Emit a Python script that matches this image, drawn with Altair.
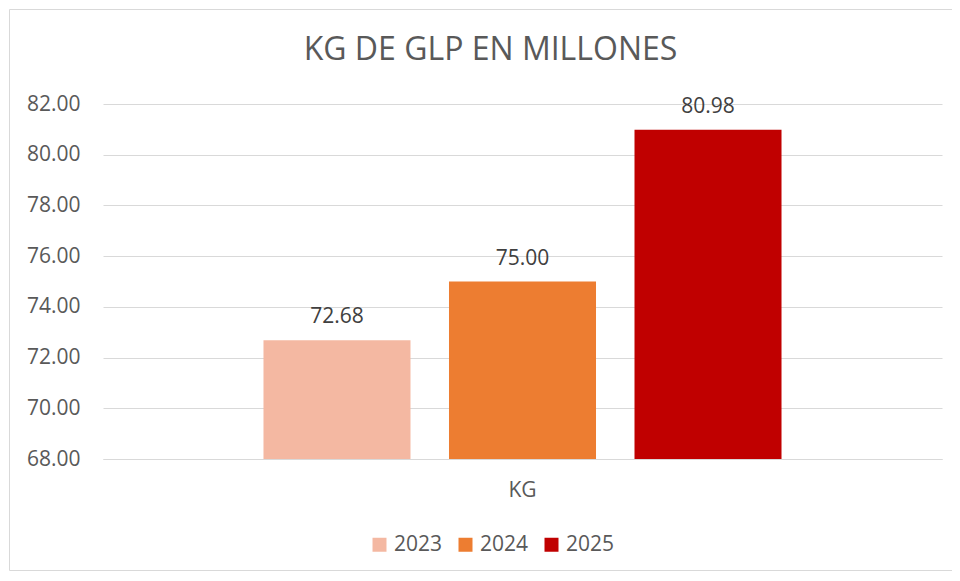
import altair as alt
import pandas as pd

years = ["2023", "2024", "2025"]
values = [72.68, 75.00, 80.98]
category = ["KG", "KG", "KG"]
colors = ["#F4B8A2", "#ED7D31", "#C00000"]
chart_title = "KG DE GLP EN MILLONES"
y_ticks = [68, 70, 72, 74, 76, 78, 80, 82]
y_base = 68

df = pd.DataFrame({"cat": category, "year": years, "value": values})
frame_df = pd.DataFrame({"a": [0]})

FONT = "Open Sans"
GRID = "#D9D9D9"
TXT = "#595959"
FS = 21

x_enc = alt.X(
    "cat:N",
    title=None,
    scale=alt.Scale(paddingInner=0, paddingOuter=0.3098),
    axis=alt.Axis(
        labelAngle=0, ticks=False, domainColor=GRID, labelPadding=20,
        labelFontSize=FS, labelColor=TXT, labelFont=FONT, grid=False,
    ),
)
xoff_enc = alt.XOffset("year:N", scale=alt.Scale(paddingInner=0.2075, paddingOuter=0))
y_enc = alt.Y(
    "value:Q",
    title=None,
    scale=alt.Scale(domain=[68, 82], nice=False, zero=False),
    axis=alt.Axis(
        values=y_ticks, format=".2f", domain=False, ticks=False,
        labelPadding=23, labelFontSize=FS, labelColor=TXT, labelFont=FONT,
        gridColor=GRID, gridWidth=1,
    ),
)

bars = alt.Chart(df).mark_bar().encode(
    x=x_enc,
    xOffset=xoff_enc,
    y=y_enc,
    y2=alt.datum(y_base),
    color=alt.Color(
        "year:N",
        scale=alt.Scale(domain=years, range=colors),
        legend=alt.Legend(
            title=None, orient="none", legendX=266, legendY=430,
            direction="horizontal", symbolType="square", symbolSize=196,
            symbolStrokeWidth=0, labelFontSize=FS, labelColor=TXT,
            labelFont=FONT, columnPadding=12, labelOffset=4,
        ),
    ),
)

labels = alt.Chart(df).mark_text(
    baseline="alphabetic", dy=-17, fontSize=FS, font=FONT, color="#404040"
).encode(
    x=x_enc,
    xOffset=xoff_enc,
    y=y_enc,
    text=alt.Text("value:Q", format=".2f"),
)

frame = alt.Chart(frame_df).mark_rect(
    fill="transparent", stroke=GRID, strokeWidth=1
).encode(
    x=alt.value(-93.5), x2=alt.value(880), y=alt.value(-94.5), y2=alt.value(111.5 + 355)
)

chart = alt.layer(frame, bars, labels).properties(
    width=839,
    height=355,
    padding={"left": 95, "top": 96, "right": 10, "bottom": 112},
    autosize=alt.AutoSizeParams(type="none"),
    background="white",
    title=alt.TitleParams(
        chart_title, fontSize=32, font=FONT, color=TXT, fontWeight="normal",
        anchor="middle", offset=-58, dx=-32,
    ),
).configure_view(stroke=None)

chart.save("out.html", embed_options={"renderer": "svg", "actions": False})
